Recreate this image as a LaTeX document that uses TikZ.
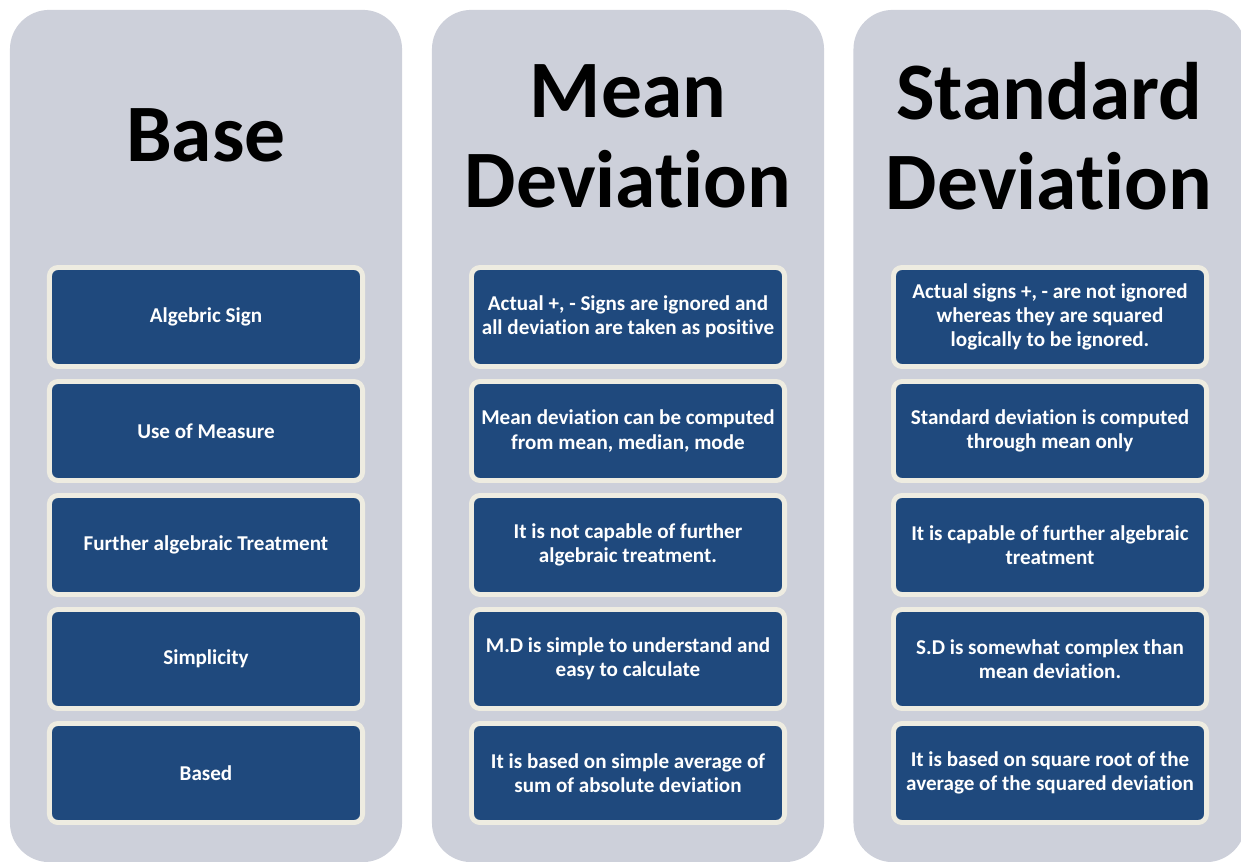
\documentclass[tikz,border=0pt]{standalone}
\usepackage{fontspec}
\setmainfont{Carlito}[Ligatures=NoCommon]
\usepackage{xcolor}
\usetikzlibrary{positioning}

\definecolor{colgrey}{RGB}{205,208,218}
\definecolor{boxblue}{RGB}{31,73,125}
\definecolor{boxrim}{RGB}{238,236,225}

\begin{document}
\begin{tikzpicture}[x=0.025cm, y=-0.025cm,
    column/.style={fill=colgrey, rounded corners=28pt, minimum width=9.8cm, minimum height=21.3cm},
    heading/.style={font=\bfseries\fontsize{58}{64}\selectfont, align=center},
    cell/.style={fill=boxblue, draw=boxrim, line width=3.5pt, rounded corners=6pt,
        minimum width=7.825cm, minimum height=2.475cm, text=white, align=center,
        font=\bfseries\fontsize{15}{17.2}\selectfont}]
    \useasboundingbox (0,0) rectangle (1241,861);

    % the three columns
    \node[column] (base) at (206, 436) {};
    \node[column] (mean) at (628, 436) {};
    \node[column] (std) at (1049.5, 436) {};

    \node[heading] (baseT) at (206, 135) {Base};
    \node[heading] (meanT) at (628, 136) {Mean\\Deviation};
    \node[heading] (stdT) at (1049, 136) {Standard\\Deviation};

    % Base
    \node[cell] (b1) at (206, 317) {Algebric Sign};
    \node[cell] (b2) at (206, 431) {Use of Measure};
    \node[cell] (b3) at (206, 545) {Further algebraic Treatment};
    \node[cell] (b4) at (206, 659) {Simplicity};
    \node[cell] (b5) at (206, 773) {Based};

    % Mean deviation
    \node[cell] (m1) at (628, 317) {Actual +, - Signs are ignored and\\all deviation are taken as positive};
    \node[cell] (m2) at (628, 431) {Mean deviation can be computed\\from mean, median, mode};
    \node[cell] (m3) at (628, 545) {It is not capable of further\\algebraic treatment.};
    \node[cell] (m4) at (628, 659) {M.D is simple to understand and\\easy to calculate};
    \node[cell] (m5) at (628, 773) {It is based on simple average of\\sum of absolute deviation};

    % Standard deviation
    \node[cell] (s1) at (1050, 317) {Actual signs +, - are not ignored\\whereas they are squared\\logically to be ignored.};
    \node[cell] (s2) at (1050, 431) {Standard deviation is computed\\through mean only};
    \node[cell] (s3) at (1050, 545) {It is capable of further algebraic\\treatment};
    \node[cell] (s4) at (1050, 659) {S.D is somewhat complex than\\mean deviation.};
    \node[cell] (s5) at (1050, 773) {It is based on square root of the\\average of the squared deviation};
\end{tikzpicture}
\end{document}
